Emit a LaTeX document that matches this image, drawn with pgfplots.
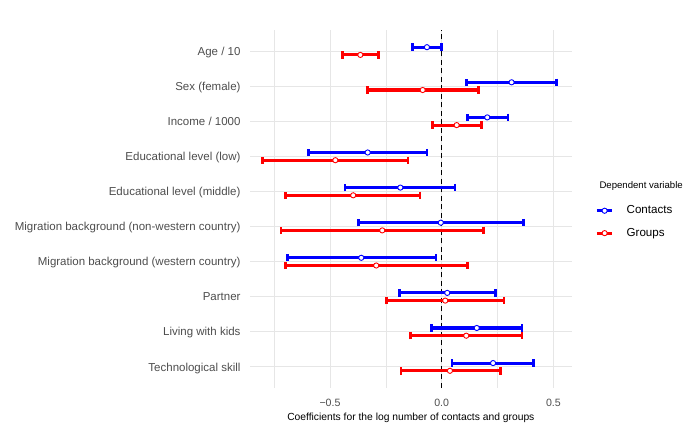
\documentclass[border=0pt]{standalone}
\usepackage{fontspec}
\setmainfont{Liberation Sans}
\usepackage{pgfplots}
\pgfplotsset{compat=1.18}
\usepackage{pgfplotstable}

\definecolor{tickgray}{HTML}{4D4D4D}
\definecolor{gridgray}{HTML}{E6E6E6}
\definecolor{cblue}{HTML}{0000FF}
\definecolor{cred}{HTML}{FF0000}

% row: 10 = top predictor (Age / 10), 1 = bottom (Technological skill)
\pgfplotstableread{
row lo est hi
10 -0.131 -0.066 0.000
9 0.110 0.313 0.515
8 0.115 0.204 0.296
7 -0.597 -0.331 -0.066
6 -0.433 -0.185 0.060
5 -0.373 -0.004 0.366
4 -0.691 -0.360 -0.025
3 -0.190 0.025 0.240
2 -0.045 0.157 0.360
1 0.046 0.230 0.410
}\contacts

\pgfplotstableread{
row lo est hi
10 -0.445 -0.364 -0.282
9 -0.331 -0.085 0.164
8 -0.042 0.067 0.179
7 -0.803 -0.476 -0.151
6 -0.699 -0.396 -0.097
5 -0.719 -0.266 0.188
4 -0.699 -0.293 0.115
3 -0.246 0.016 0.279
2 -0.139 0.110 0.360
1 -0.182 0.037 0.263
}\groups

\pgfplotsset{
  coefplot/.style={
    only marks,
    mark=*,
    mark size=2.6bp,
    mark options={fill=white, draw=#1, line width=0.9bp},
    error bars/x dir=both,
    error bars/x explicit,
    error bars/error mark=|,
    error bars/error bar style={line width=3.1bp, draw=#1},
    error bars/error mark options={line width=2.6bp, draw=#1, mark size=3.7bp},
  },
  coefkey/.style={
    legend image code/.code={
      \draw[line width=3.1bp, draw=#1] (0bp,0bp) -- (15.7bp,0bp);
      \draw[line width=0.9bp, draw=#1, fill=white] (7.85bp,0bp) circle (2.6bp);
    }
  },
}

\begin{document}
\begin{tikzpicture}
\useasboundingbox (0,0) rectangle (685bp,426bp);
\begin{axis}[
  at={(250bp,38bp)}, anchor=south west,
  scale only axis,
  width=321.7bp, height=358bp,
  clip=false,
  xmin=-0.858, xmax=0.582,
  ymin=0.4, ymax=10.6,
  axis line style={draw=none},
  major tick length=0pt, minor tick length=0pt,
  xtick={-0.5,0,0.5},
  xticklabels={−0.5,0.0,0.5},
  minor xtick={-0.75,-0.25,0.25},
  ytick={1,...,10},
  yticklabels={Technological skill, Living with kids, Partner,
    Migration background (western country),
    Migration background (non-western country),
    Educational level (middle), Educational level (low),
    Income / 1000, Sex (female), Age / 10},
  grid=both,
  major grid style={draw=gridgray, line width=0.9bp},
  minor grid style={draw=gridgray, line width=0.5bp},
  yticklabel style={font=\fontsize{11.5bp}{13bp}\selectfont, text=tickgray,
    inner sep=0pt, anchor=base east, xshift=-9.3bp, yshift=-4.1bp},
  xticklabel style={font=\fontsize{10.6bp}{12bp}\selectfont, text=tickgray,
    inner sep=0pt, anchor=base, yshift=-18.4bp},
  xlabel={Coefficients for the log number of contacts and groups},
  xlabel style={font=\fontsize{10.3bp}{12bp}\selectfont, inner sep=0pt,
    at={(axis description cs:0.5,0)}, anchor=base, yshift=-32bp},
  legend style={
    at={(axis description cs:1.0725,0.5109)}, anchor=north west,
    draw=none, fill=none, inner sep=0pt, row sep=11.5bp,
    font=\fontsize{11.6bp}{13bp}\selectfont,
    nodes={inner sep=0pt, text height=8.4bp, text depth=2.5bp},
    /tikz/every odd column/.append style={column sep=12.6bp},
  },
  legend cell align=left,
]
% reference line at zero
\addplot[black, line width=1.4bp, dash pattern=on 5bp off 3.5bp, forget plot]
  coordinates {(0,0.4) (0,10.6)};

\addplot[coefplot=cblue, coefkey=cblue]
  table[x=est, y expr=\thisrow{row}+0.11,
        x error minus expr=\thisrow{est}-\thisrow{lo},
        x error plus expr=\thisrow{hi}-\thisrow{est}] {\contacts};
\addlegendentry{Contacts}

\addplot[coefplot=cred, coefkey=cred]
  table[x=est, y expr=\thisrow{row}-0.11,
        x error minus expr=\thisrow{est}-\thisrow{lo},
        x error plus expr=\thisrow{hi}-\thisrow{est}] {\groups};
\addlegendentry{Groups}

\node[anchor=base west, inner sep=0pt, font=\fontsize{9.6bp}{11bp}\selectfont]
  at (axis description cs:1.0858,0.5567) {Dependent variable};
\end{axis}
\end{tikzpicture}
\end{document}
